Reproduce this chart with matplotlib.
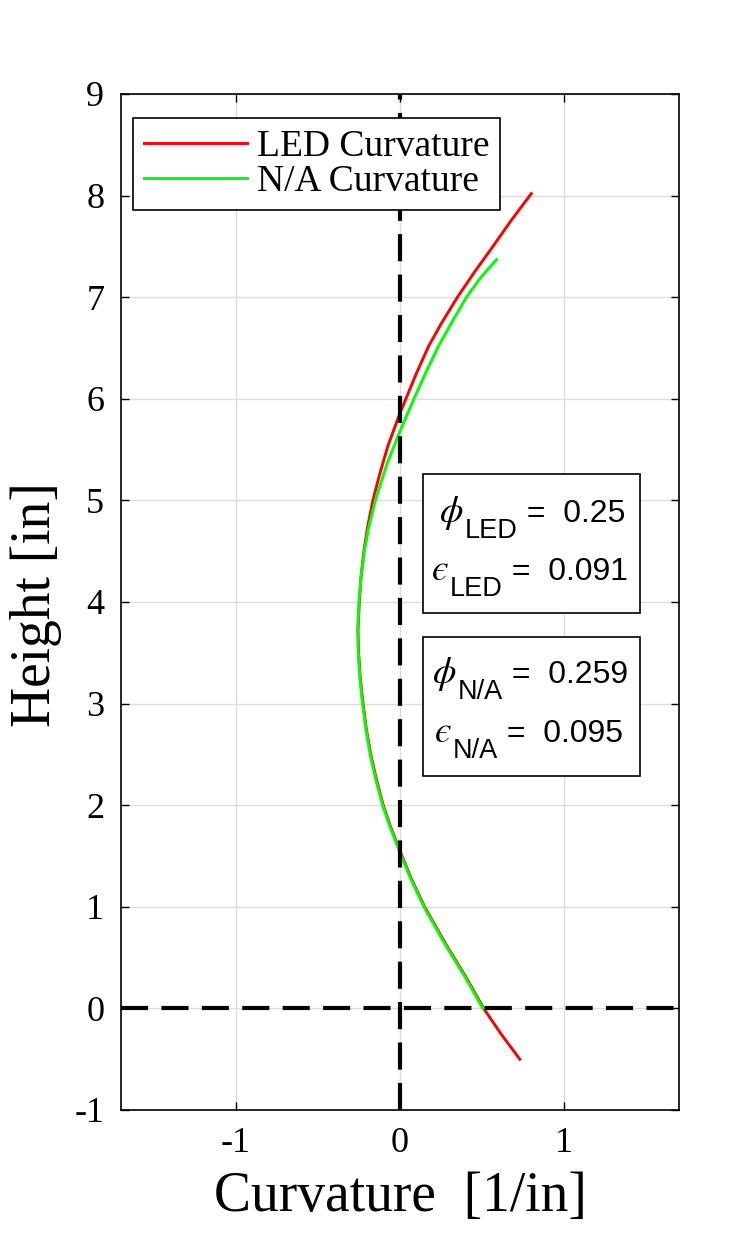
import numpy as np
import matplotlib
matplotlib.use("Agg")
import matplotlib.pyplot as plt
from matplotlib.patches import Rectangle

plt.rcParams["axes.unicode_minus"] = False

# curve values (height [in], curvature [1/in])
led_height = [-0.50, -0.25, 0.0, 0.3, 0.62, 1.0, 1.28, 1.55, 1.8, 2.0, 2.25, 2.5,
              2.75, 3.0, 3.25, 3.5, 3.72, 4.0, 4.25, 4.5, 4.74, 5.0, 5.25, 5.53,
              5.86, 6.0, 6.25, 6.52, 6.75, 7.0, 7.25, 7.49, 7.75, 8.02]
led_curv = [0.73, 0.615, 0.51, 0.405, 0.284, 0.15, 0.068, 0.0, -0.06, -0.102, -0.143, -0.178,
            -0.205, -0.225, -0.242, -0.252, -0.256, -0.248, -0.237, -0.22, -0.197, -0.165, -0.125, -0.075,
            0.0, 0.036, 0.10, 0.175, 0.255, 0.35, 0.455, 0.562, 0.675, 0.80]

na_height = [0.0, 0.3, 0.62, 1.0, 1.28, 1.55, 1.8, 2.0, 2.25, 2.5, 2.75, 3.0,
             3.25, 3.5, 3.72, 4.0, 4.25, 4.5, 4.74, 5.0, 5.37, 5.68, 6.0, 6.25,
             6.52, 6.75, 7.0, 7.2, 7.37]
na_curv = [0.505, 0.40, 0.279, 0.146, 0.064, -0.004, -0.064, -0.106, -0.147, -0.182, -0.208, -0.228,
           -0.244, -0.254, -0.257, -0.25, -0.237, -0.217, -0.19, -0.15, -0.077, 0.0, 0.085, 0.155,
           0.235, 0.315, 0.405, 0.495, 0.588]

series_labels = ["LED Curvature", "N/A Curvature"]
# (symbol, subscript, value) for each line of the two info boxes
box_lines = [
    [("\u03d5", "LED", "0.25"), ("\u03f5", "LED", "0.091")],
    [("\u03d5", "N/A", "0.259"), ("\u03f5", "N/A", "0.095")],
]

x_ticks = [-1, 0, 1]
y_ticks = list(range(-1, 10))

serif = ["Liberation Serif", "DejaVu Serif"]
sans = ["Liberation Sans", "DejaVu Sans"]
greek = ["STIXGeneral", "DejaVu Serif"]

fig = plt.figure(figsize=(7.5, 12.5), dpi=100)
ax = fig.add_axes([0.1613, 0.112, 0.744, 0.8128])

ax.grid(True, color="#dcdcdc", linewidth=1.0)
ax.set_axisbelow(True)

ax.plot(led_curv, led_height, color="#ff0000", linewidth=2.1, label=series_labels[0], zorder=3)
ax.plot(na_curv, na_height, color="#00ff00", linewidth=2.1, label=series_labels[1], zorder=3)

ax.axvline(0, color="black", linewidth=3.0, dashes=(6.5, 3.2), zorder=4)
ax.axhline(0, color="black", linewidth=3.0, dashes=(6.5, 3.2), zorder=4)

ax.set_xlim(-1.7, 1.7)
ax.set_ylim(-1, 9)
ax.set_xticks(x_ticks)
ax.set_yticks(y_ticks)
ax.tick_params(direction="in", length=6, width=1, top=True, right=True,
               labelsize=26, pad=12)
for lab in ax.get_xticklabels() + ax.get_yticklabels():
    lab.set_family(serif)
for s in ax.spines.values():
    s.set_linewidth(1.2)

ax.set_xlabel("Curvature  [1/in]", fontsize=40, family=serif, labelpad=8)
ax.set_ylabel("Height [in]", fontsize=40, family=serif)
ax.yaxis.set_label_coords(-0.106, 0.497)

leg = ax.legend(loc="upper left", bbox_to_anchor=(0.0215, 0.976), prop={"family": serif, "size": 27},
                fancybox=False, framealpha=1, edgecolor="black", handlelength=2.75,
                handletextpad=0.25, borderpad=0.3, labelspacing=0.0, borderaxespad=0.0)
leg.get_frame().set_linewidth(1.2)

# info boxes (axes fraction)
box_y = [0.489, 0.3287]
line_x = [[0.572, 0.557], [0.559, 0.563]]
line_base = [[0.579, 0.5217], [0.420, 0.3625]]
for b in range(2):
    ax.add_patch(Rectangle((0.541, box_y[b]), 0.389, 0.1368, transform=ax.transAxes,
                           facecolor="white", edgecolor="black", linewidth=1.2, zorder=5))
    for i, (sym, sub, val) in enumerate(box_lines[b]):
        xb, yb = line_x[b][i], line_base[b][i]
        t_sym = ax.text(xb, yb, sym, transform=ax.transAxes, fontsize=27, family=greek,
                        style="italic", ha="left", va="baseline", zorder=6)
        t_sub = ax.annotate(sub, xy=(1, yb), xycoords=(t_sym, ax.transAxes),
                            xytext=(1, -11.5), textcoords="offset points",
                            fontsize=19.5, family=sans, ha="left", va="baseline", zorder=6)
        ax.annotate(" =  " + val, xy=(1, yb), xycoords=(t_sub, ax.transAxes),
                    xytext=(0, 0), textcoords="offset points",
                    fontsize=23, family=sans, ha="left", va="baseline", zorder=6)

fig.savefig("out.png", dpi=100)
